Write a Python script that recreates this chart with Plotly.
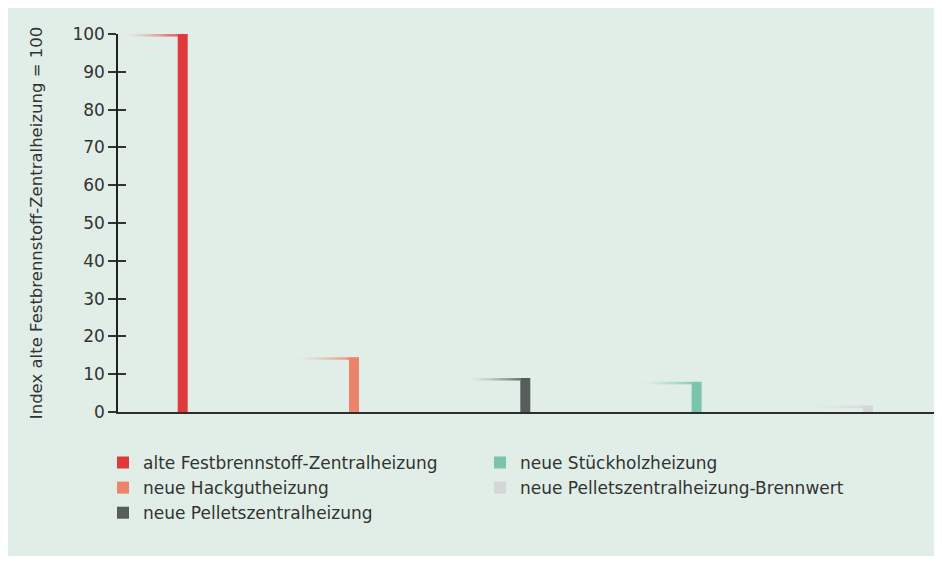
import plotly.graph_objects as go

categories = [
    "alte Festbrennstoff-Zentralheizung",
    "neue Hackgutheizung",
    "neue Pelletszentralheizung",
    "neue Stückholzheizung",
    "neue Pelletszentralheizung-Brennwert",
]
values = [100, 14.5, 9, 8, 1.7]
colors = ["#E0393B", "#EB8468", "#575D5A", "#7BC4AC", "#D4D6D8"]
legend_ids = ["legend", "legend", "legend", "legend2", "legend2"]
y_title = "Index alte Festbrennstoff-Zentralheizung = 100"
y_ticks = list(range(0, 101, 10))

# page body has an 8px margin, so the figure is sized to fit inside it
W, H = 926, 548
ML, MR, MT, MB = 110, 0, 25.5, 144
PW, PH = W - ML - MR, H - MT - MB
FONT = "DejaVu Sans"
TXT = "#333333"
BG = "#E0EEE7"

bar_w = 0.0584
shadow_len = 0.3
N = 24
step_px = 171.3
first_px = 174.7


def hex_rgba(h, a):
    h = h.lstrip("#")
    return f"rgba({int(h[0:2],16)},{int(h[2:4],16)},{int(h[4:6],16)},{a:.3f})"


fig = go.Figure()
for i in range(len(categories)):
    fig.add_trace(go.Bar(
        x=[i], y=[values[i]], width=bar_w, name=categories[i],
        marker=dict(color=colors[i], line=dict(width=0)),
        legend=legend_ids[i], hoverinfo="name+y",
    ))

shapes = []
# fading top shadow lines
for i, v in enumerate(values):
    left = i - bar_w / 2
    for k in range(N):
        x0 = left - shadow_len * (N - k) / N
        x1 = left - shadow_len * (N - k - 1) / N
        a = ((k + 1) / N) ** 1.5 * 0.85
        shapes.append(dict(type="line", xref="x", yref="y",
                           x0=x0, x1=x1, y0=v - 0.35, y1=v - 0.35,
                           line=dict(color=hex_rgba(colors[i], a), width=2.5),
                           layer="above"))

xr0 = -(first_px - ML) / step_px
xr1 = xr0 + PW / step_px

leg_top = (H - MB - 437) / PH

fig.update_layout(
    width=W, height=H,
    margin=dict(l=ML, r=MR, t=MT, b=MB, pad=0),
    paper_bgcolor=BG, plot_bgcolor="rgba(0,0,0,0)",
    font=dict(family=FONT, size=15, color=TXT),
    shapes=shapes,
    showlegend=True,
    barmode="overlay",
    xaxis=dict(range=[xr0, xr1], showgrid=False, zeroline=False,
               showticklabels=False, ticks="", showline=True,
               linecolor="#2E2E2E", linewidth=2, fixedrange=True),
    yaxis=dict(range=[0, 100], showgrid=False, zeroline=False,
               tickvals=y_ticks, ticks="outside", ticklen=8, tickwidth=1.5,
               tickcolor="#333333", showline=True, linecolor="#222222",
               linewidth=1.5, tickfont=dict(size=17, color=TXT),
               title=dict(text=y_title, font=dict(size=16.5, color=TXT),
                          standoff=26)),
    yaxis2=dict(range=[0, 100], overlaying="y", side="left",
                tickvals=y_ticks[1:], ticks="inside", ticklen=8, tickwidth=1.5,
                tickcolor="#333333", showticklabels=False, showgrid=False,
                zeroline=False, showline=False, anchor="x"),
    legend=dict(x=(95 - ML) / PW, y=leg_top, xanchor="left",
                yanchor="top", orientation="v", bgcolor="rgba(0,0,0,0)",
                font=dict(size=17, color=TXT), traceorder="normal",
                tracegroupgap=0),
    legend2=dict(x=(472 - ML) / PW, y=leg_top, xanchor="left",
                 yanchor="top", orientation="v", bgcolor="rgba(0,0,0,0)",
                 font=dict(size=17, color=TXT), traceorder="normal",
                 tracegroupgap=0),
)
# invisible helper so yaxis2 renders its inner tick halves
fig.add_trace(go.Scatter(x=[None], y=[None], yaxis="y2", showlegend=False,
                         hoverinfo="skip"))

fig.write_html("out.html")
